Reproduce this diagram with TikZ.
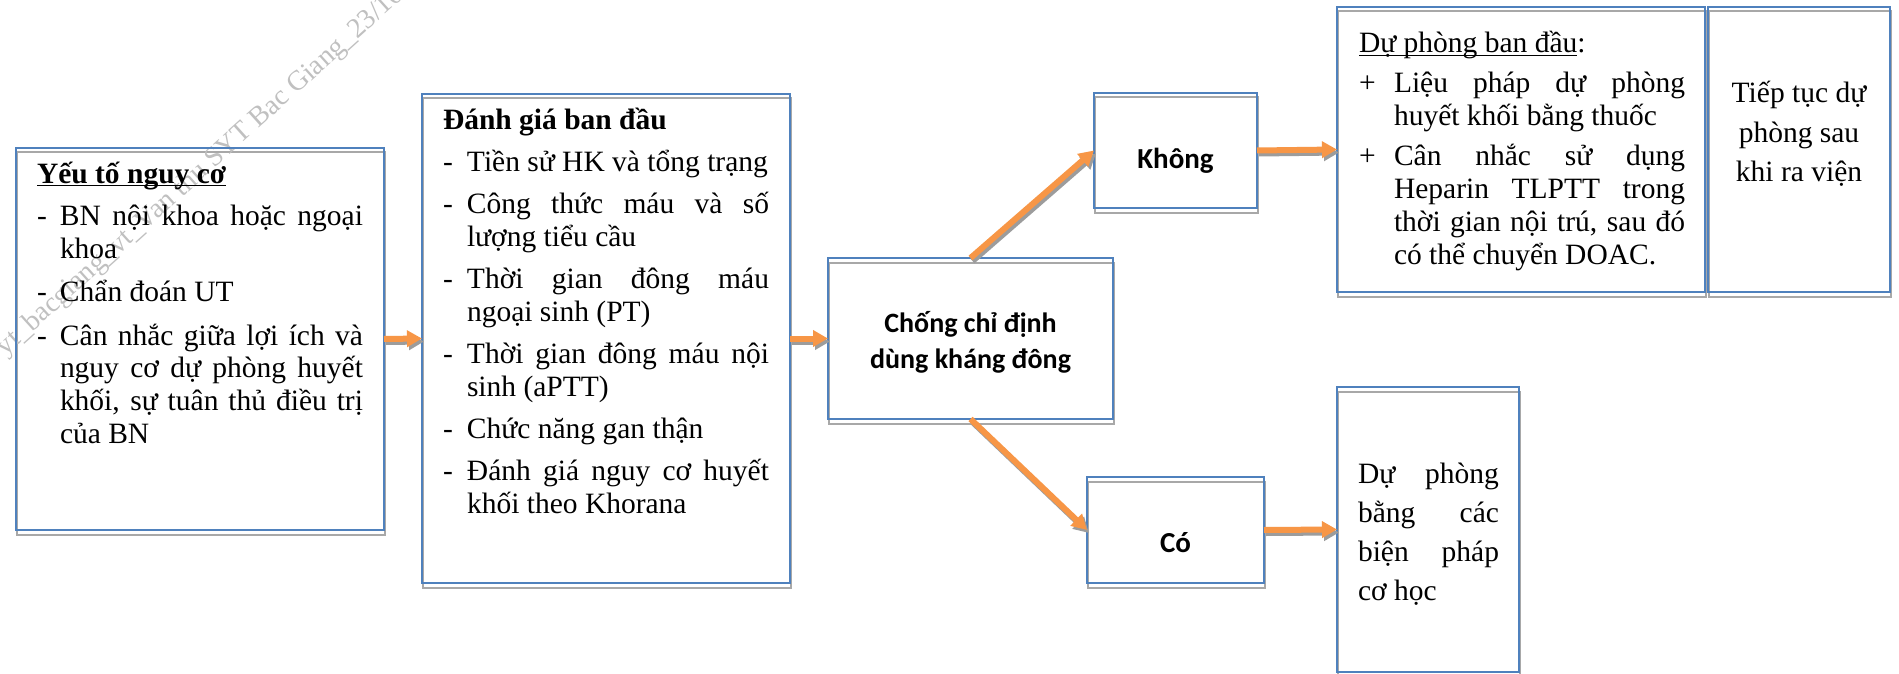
\documentclass[tikz,border=0pt]{standalone}
\usepackage{fontspec}
\setmainfont{Liberation Serif}
\newfontfamily\cali{Carlito}
\usetikzlibrary{arrows.meta,backgrounds}
\definecolor{bblue}{HTML}{4F81BD}
\definecolor{aorange}{HTML}{F79646}
\definecolor{shgray}{HTML}{A8A8A8}
\definecolor{ashgray}{HTML}{9C9C9C}
\definecolor{wmgray}{HTML}{C0C0C0}
\newcommand\myul[1]{\setbox0=\hbox{#1}\rlap{\rule[-3.5pt]{\wd0}{1.8pt}}\box0}
\newcommand\bodyfont{\fontsize{29.5}{33}\selectfont}
\newcommand\itm[2]{\par\hangindent=#1\hangafter=1\noindent\hbox to #1{#2\hfil}\ignorespaces}
\newcommand\tsetup{\parindent=0pt\hyphenpenalty=10000\exhyphenpenalty=10000\tolerance=10000\rightskip=0pt}
\begin{document}
\begin{tikzpicture}[x=1pt,y=-1pt,
  bx/.style={draw=bblue, line width=2pt, inner sep=0pt, outer sep=0pt, anchor=north west},
  shd/.style={draw=shgray, line width=2pt},
  arr/.style={draw=aorange, line width=6pt, -{Triangle[length=15pt,width=16pt]}},
  arrsh/.style={draw=ashgray, line width=6pt, -{Triangle[length=15pt,width=16pt]}, transform canvas={xshift=2pt,yshift=-3pt}},
  txt/.style={inner sep=0pt, outer sep=0pt}]
\useasboundingbox (0,0) rectangle (1899,674);
\begin{pgfonlayer}{background}
\fill[white] (0,0) rectangle (1899,674);
\end{pgfonlayer}
% watermark
\begin{scope}
\clip (0,0) rectangle (1899,674);
\node[txt, anchor=base west, rotate=42, text=wmgray, font=\fontsize{28}{28}\selectfont] (wm) at (6,356) {yt\_bacgiang\_vt\_Van thu SYT Bac Giang\_23/10/2024};
\end{scope}
% boxes
\node[bx, minimum width=368pt, minimum height=382pt] (b1) at (16,148) {};
\node[bx, minimum width=368pt, minimum height=489pt] (b2) at (422,94) {};
\node[bx, minimum width=285pt, minimum height=161pt] (b3) at (828,258) {};
\node[bx, minimum width=163pt, minimum height=115pt] (khong) at (1094,93) {};
\node[bx, minimum width=177pt, minimum height=106pt] (co) at (1087,477) {};
\node[bx, minimum width=368pt, minimum height=285pt] (dp) at (1337,7) {};
\node[bx, minimum width=182pt, minimum height=285pt] (tt) at (1708,7) {};
\node[bx, minimum width=182pt, minimum height=285pt] (mech) at (1337,387) {};
\begin{pgfonlayer}{background}
\foreach \n in {b1,b2,b3,khong,co,dp,tt,mech}
  \draw[shd] ([xshift=1pt,yshift=-4.5pt]\n.north west) rectangle ([xshift=1pt,yshift=-4.5pt]\n.south east);
\end{pgfonlayer}
% texts
\node[txt, anchor=base west] (t1) at (37,183) {\vtop{\hsize=326pt\tsetup\parskip=10pt\bodyfont
\noindent\textbf{\myul{Yếu tố nguy cơ}}
\itm{23pt}{-}BN nội khoa hoặc ngoại\linebreak khoa
\itm{23pt}{-}Chẩn đoán UT
\itm{23pt}{-}Cân nhắc giữa lợi ích và\linebreak nguy cơ dự phòng huyết\linebreak khối, sự tuân thủ điều trị\linebreak của BN\par}};
\node[txt, anchor=base west] (t2) at (443,130) {\vtop{\hsize=326pt\tsetup\parskip=9pt\bodyfont
\noindent\textbf{Đánh giá ban đầu}
\itm{24pt}{-}Tiền~sử~HK~và~tổng~trạng
\itm{24pt}{-}Công thức máu và số\linebreak lượng tiểu cầu
\itm{24pt}{-}Thời gian đông máu\linebreak ngoại sinh (PT)
\itm{24pt}{-}Thời gian đông máu nội\linebreak sinh (aPTT)
\itm{24pt}{-}Chức năng gan thận
\itm{24pt}{-}Đánh giá nguy cơ huyết\linebreak khối theo Khorana\par}};
\node[txt, anchor=base] (t3) at (970.5,332) {\vtop{\hsize=280pt\tsetup\parskip=0pt\cali\bfseries\fontsize{28}{36}\selectfont\centering
Chống chỉ định\par dùng kháng đông\par}};
\node[txt, anchor=base] (tk) at (1175.5,168) {\cali\bfseries\fontsize{29}{35}\selectfont Không};
\node[txt, anchor=base] (tc) at (1175.5,552) {\cali\bfseries\fontsize{29}{35}\selectfont Có};
\node[txt, anchor=base west] (tdp) at (1359,53) {\vtop{\hsize=326pt\tsetup\fontsize{29.5}{33}\selectfont\parskip=7pt
\noindent\myul{Dự phòng ban đầu}:
\itm{35pt}{+}Liệu pháp dự phòng\linebreak huyết khối bằng thuốc
\itm{35pt}{+}Cân nhắc sử dụng\linebreak Heparin TLPTT trong\linebreak thời gian nội trú, sau đó\linebreak có thể chuyển DOAC.\par}};
\node[txt, anchor=base] (ttt) at (1799,103) {\vtop{\hsize=175pt\tsetup\parskip=0pt\fontsize{29.5}{39.5}\selectfont\centering
Tiếp tục dự\par phòng sau\par khi ra viện\par}};
\node[txt, anchor=base west] (tm) at (1358,483) {\vtop{\hsize=141pt\tsetup\parskip=0pt\fontsize{29.5}{39}\selectfont
\noindent Dự phòng\linebreak bằng các\linebreak biện pháp\linebreak cơ học\par}};
% connectors
\foreach \a/\b in {b1/b2,b2/b3,khong/dp,co/mech}
  \draw[arrsh] (\a.east) -- (\b.west);
\draw[arrsh] (b3.north) -- (khong.west);
\draw[arrsh] (b3.south) -- (co.west);
\foreach \a/\b in {b1/b2,b2/b3,khong/dp,co/mech}
  \draw[arr] (\a.east) -- (\b.west);
\draw[arr] (b3.north) -- (khong.west);
\draw[arr] (b3.south) -- (co.west);
\end{tikzpicture}
\end{document}
